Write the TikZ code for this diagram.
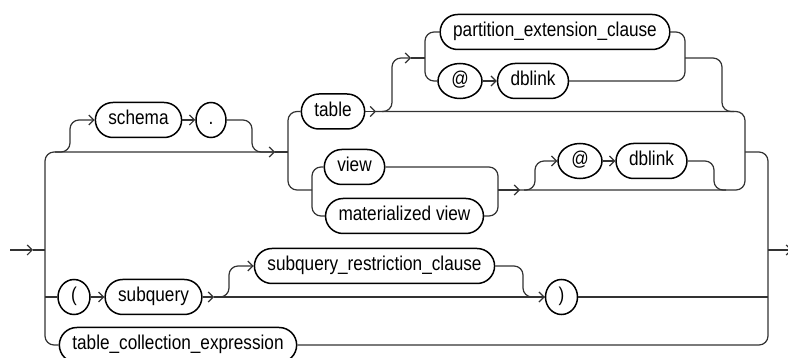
\documentclass[tikz,border=0pt]{standalone}
\usepackage{fontspec}
\setmainfont[FakeStretch=0.86]{Liberation Sans}
\usetikzlibrary{shapes.geometric, arrows.meta}
\tikzset{
  nonterm/.style={rectangle, rounded corners=17.5pt, draw=black, line width=1.5pt, minimum height=35pt, inner xsep=13pt, inner ysep=0pt, text height=14pt, text depth=4pt, font=\fontsize{20}{22}\selectfont},
  term/.style={ellipse, draw=black, line width=1.5pt, minimum width=32pt, minimum height=35pt, inner sep=0pt, text height=14pt, text depth=4pt, font=\fontsize{20}{22}\selectfont},
  rail/.style={line width=1.2pt, draw=black!80, rounded corners=9pt},
  arrow/.style={rail, -{Straight Barb[length=5pt,width=10pt]}}
}
\begin{document}
\begin{tikzpicture}[x=1pt, y=-1pt]
        \useasboundingbox (0,0) rectangle (788,358);

        % Cajas
        \node[nonterm] (schema) at (138.5,120) {schema};
        \node[term, minimum width=30pt] (dot) at (211,120) {.};
        \node[nonterm] (table) at (333,111.5) {table};
        \node[nonterm] (pext) at (555,32) {partition\_extension\_clause};
        \node[term, minimum width=44pt] (atA) at (460,81) {@};
        \node[nonterm] (dblinkA) at (533,81) {dblink};
        \node[nonterm] (view) at (354.5,167) {view};
        \node[nonterm] (mview) at (404.5,216) {materialized view};
        \node[term, minimum width=44pt] (atB) at (580,161) {@};
        \node[nonterm] (dblinkB) at (651.5,161) {dblink};
        \node[term] (lpar) at (74,297) {(};
        \node[nonterm] (subq) at (153.5,297) {subquery};
        \node[nonterm] (sqrc) at (374.5,266) {subquery\_restriction\_clause};
        \node[term] (rpar) at (561.5,297) {)};
        \node[nonterm] (tce) at (178,345) {table\_collection\_expression};

        % Puntos de los rieles
        \coordinate (in) at (10,250);
        \coordinate (inTip) at (33,250);
        \coordinate (railL) at (45,250);
        \coordinate (railLtop) at (45,152);
        \coordinate (sBr) at (55,152);
        \coordinate (sUp) at (70,120);
        \coordinate (sDn) at (252,152);
        \coordinate (tTip) at (275,152);
        \coordinate (tRail) at (288,152);
        \coordinate (tvRail) at (288,190);
        \coordinate (vRail) at (312,190);
        \coordinate (vRailR) at (498,190);
        \coordinate (tArr) at (376,111.5);
        \coordinate (pBr) at (382,111.5);
        \coordinate (pUp) at (392,58);
        \coordinate (pTip) at (411,58);
        \coordinate (pRailL) at (425,58);
        \coordinate (pRailR) at (685,58);
        \coordinate (pDn) at (722,111.5);
        \coordinate (aTip) at (520,190);
        \coordinate (aBr) at (524,190);
        \coordinate (aUp) at (535,161);
        \coordinate (aDn) at (714,190);
        \coordinate (vEnd) at (745,190);
        \coordinate (railT) at (745,152);
        \coordinate (railR) at (768,250);
        \coordinate (railRbot) at (768,345);
        \coordinate (out) at (792,250);
        \coordinate (lBr) at (45,297);
        \coordinate (rBr) at (768,297);
        \coordinate (qTip) at (214,297);
        \coordinate (qBr) at (218,297);
        \coordinate (qUp) at (229,266);
        \coordinate (qDn) at (523,297);

        % Entrada y riel izquierdo
        \draw[arrow] (in) -- (inTip);
        \draw[rail] (inTip) -- (railL);
        \draw[arrow] (tce.west) -| (railLtop) -- (tTip);
        \draw[rail] (tTip) -- (tRail);

        % schema .
        \draw[arrow] (sBr) -| (sUp) -- (schema.west);
        \draw[arrow] (schema) -- (dot);
        \draw[rail] (dot.east) -| (sDn) -- (tTip);

        % table / view / materialized view
        \draw[rail] (table.west) -| (tvRail) -- (vRail);
        \draw[rail] (view.west) -| (vRail) |- (mview.west);
        \draw[rail] (view.east) -| (vRailR) |- (mview.east);

        % partition_extension_clause o @ dblink
        \draw[arrow] (table.east) -- (tArr);
        \draw[rail] (tArr) -| (vEnd) -- (vRailR);
        \draw[arrow] (pBr) -| (pUp) -- (pTip);
        \draw[rail] (pTip) -- (pRailL);
        \draw[rail] (pext.west) -| (pRailL) |- (atA.west);
        \draw[arrow] (atA) -- (dblinkA);
        \draw[rail] (pext.east) -| (pRailR) |- (dblinkA.east);
        \draw[rail] (pRailR) -| (pDn) -- ++(12,0);

        % @ dblink tras view
        \draw[arrow] (vRailR) -- (aTip);
        \draw[arrow] (aBr) -| (aUp) -- (atB.west);
        \draw[arrow] (atB) -- (dblinkB);
        \draw[rail] (dblinkB.east) -| (aDn) -- ++(12,0);

        % Riel derecho y salida
        \draw[rail] (railT) -| (railRbot) -- (tce.east);
        \draw[arrow] (railR) -- (out);

        % ( subquery [subquery_restriction_clause] )
        \draw[rail] (lBr) -- (lpar.west);
        \draw[arrow] (lpar) -- (subq);
        \draw[arrow] (subq.east) -- (qTip);
        \draw[arrow] (qTip) -- (rpar.west);
        \draw[arrow] (qBr) -| (qUp) -- (sqrc.west);
        \draw[rail] (sqrc.east) -| (qDn) -- (rpar.west);
        \draw[rail] (rpar.east) -- (rBr);
    \end{tikzpicture}
\end{document}
